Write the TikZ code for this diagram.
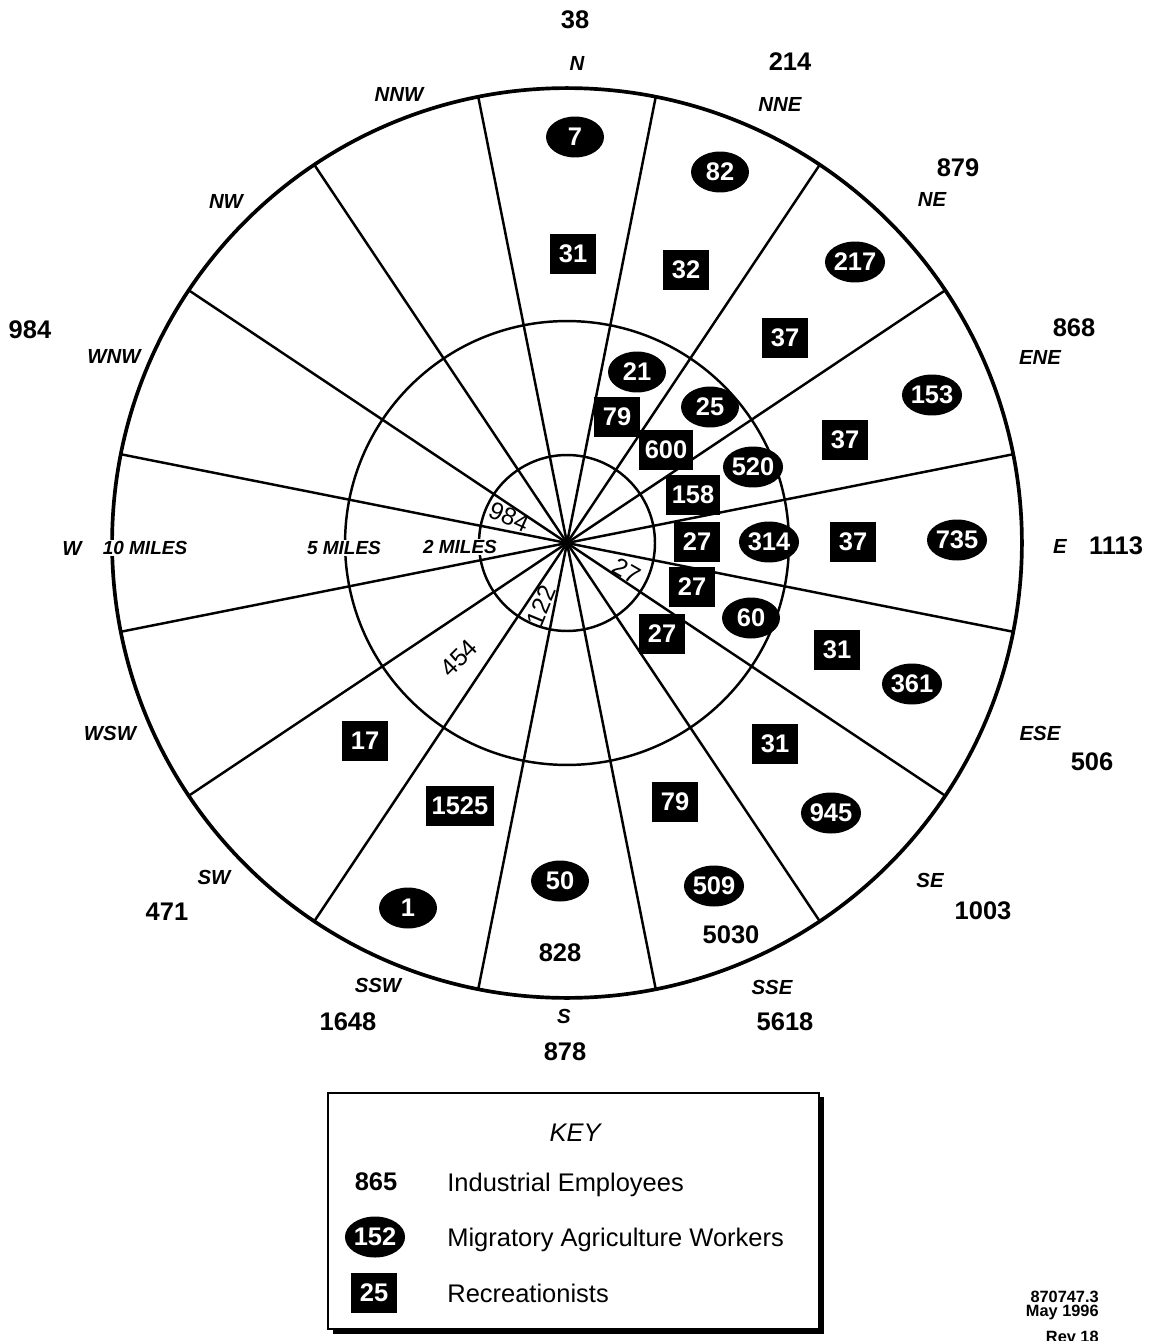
\documentclass[tikz,border=0pt]{standalone}
\usepackage{fontspec}
\setmainfont{Liberation Sans}
\usetikzlibrary{shapes.geometric,positioning}

\begin{document}
\begin{tikzpicture}[x=0.02cm,y=-0.02cm]
\tikzstyle{migr}=[ellipse,fill=black,text=white,font=\bfseries\fontsize{14.5}{14.5}\selectfont,minimum width=1.16cm,minimum height=0.82cm,inner sep=0pt]
\tikzstyle{recr}=[rectangle,fill=black,text=white,font=\bfseries\fontsize{14.5}{14.5}\selectfont,minimum width=0.92cm,minimum height=0.8cm,inner xsep=0.12cm,inner ysep=0pt]
\tikzstyle{indus}=[font=\bfseries\fontsize{14.5}{14.5}\selectfont,inner sep=0pt]
\tikzstyle{compass}=[font=\bfseries\itshape\fontsize{11.6}{11.6}\selectfont,inner sep=0pt]
\tikzstyle{miles}=[font=\bfseries\itshape\fontsize{10.8}{10.8}\selectfont,fill=white,inner sep=1pt]
\tikzstyle{sectnum}=[font=\fontsize{14}{14}\selectfont,inner sep=0pt]
\tikzstyle{keytext}=[font=\fontsize{14.5}{15}\selectfont,inner sep=0pt,anchor=base west]
\tikzstyle{foot}=[font=\bfseries\fontsize{9.3}{9.3}\selectfont,inner sep=0pt,anchor=base east]
\useasboundingbox (0,0) rectangle (1153,1341);
\coordinate (O) at (567,543);
% rings and sectors
\draw[line width=1.4pt] (O) circle[radius=4.44cm];
\draw[line width=1.4pt] (O) circle[radius=1.76cm];
\foreach \a in {11.25,33.75,...,348.75}
  \draw[line width=1.4pt] (O) -- ++(\a:455);
\draw[line width=2.1pt] (O) circle[radius=9.1cm];
\fill (O) circle[radius=2.5pt];
\node[miles] (m10) at (145,548) {10 MILES};
\node[miles] (m5) at (344,548) {5 MILES};
\node[miles] (m2) at (460,547) {2 MILES};
% directions and industrial employees
\node[indus] (n38) at (575,20) {38};
\node[compass] (dN) at (577,63) {N};
\node[indus] (n214) at (790,62) {214};
\node[compass] (dNNE) at (780,104) {NNE};
\node[indus] (n879) at (958,168) {879};
\node[compass] (dNE) at (932,199) {NE};
\node[indus] (n868) at (1074,328) {868};
\node[compass] (dENE) at (1040,357) {ENE};
\node[compass] (dE) at (1060,546) {E};
\node[indus] (n1113) at (1116,546) {1113};
\node[compass] (dESE) at (1040,733) {ESE};
\node[indus] (n506) at (1092,762) {506};
\node[compass] (dSE) at (930,880) {SE};
\node[indus] (n1003) at (983,911) {1003};
\node[compass] (dSSE) at (772,987) {SSE};
\node[indus] (n5618) at (785,1022) {5618};
\node[compass] (dS) at (564,1016) {S};
\node[indus] (n878) at (565,1052) {878};
\node[compass] (dSSW) at (378,985) {SSW};
\node[indus] (n1648) at (348,1022) {1648};
\node[compass] (dSW) at (214,877) {SW};
\node[indus] (n471) at (167,912) {471};
\node[compass] (dWSW) at (110,733) {WSW};
\node[compass] (dW) at (72,548) {W};
\node[compass] (dWNW) at (114,356) {WNW};
\node[indus] (n984) at (30,330) {984};
\node[compass] (dNW) at (226,201) {NW};
\node[compass] (dNNW) at (399,94) {NNW};
\node[indus] (n828) at (560,953) {828};
\node[indus] (n5030) at (731,935) {5030};
% inner ring numbers
\node[sectnum,rotate=-24] (i984) at (509,517) {984};
\node[sectnum,rotate=-30] (i27) at (627,571) {27};
\node[sectnum,rotate=67.5] (i122) at (541,606) {122};
\node[sectnum,rotate=45] (i454) at (459,658) {454};
% migratory workers
\node[migr] (aN) at (575,137) {7};
\node[migr] (aNNE) at (720,172) {82};
\node[migr] (aNE) at (855,262) {217};
\node[migr] (aENE) at (932,395) {153};
\node[migr] (aE) at (957,540) {735};
\node[migr] (aESE) at (912,684) {361};
\node[migr] (aSE) at (831,813) {945};
\node[migr] (aSSE) at (714,886) {509};
\node[migr] (aS) at (560,881) {50};
\node[migr] (aSSW) at (408,908) {1};
\node[migr] (bNNE) at (637,372) {21};
\node[migr] (bNE) at (710,407) {25};
\node[migr] (bENE) at (753,467) {520};
\node[migr] (bE) at (769,542) {314};
\node[migr] (bESE) at (751,618) {60};
% recreationists
\node[recr] (rN) at (573,254) {31};
\node[recr] (rNNE) at (686,270) {32};
\node[recr] (rNE) at (785,338) {37};
\node[recr] (rENE) at (845,440) {37};
\node[recr] (rE) at (853,542) {37};
\node[recr] (rESE) at (837,650) {31};
\node[recr] (rSE) at (775,744) {31};
\node[recr] (rSSE) at (675,802) {79};
\node[recr] (rSSW) at (460,806) {1525};
\node[recr] (rSW) at (365,741) {17};
\node[recr] (sNNE) at (617,417) {79};
\node[recr] (sNE) at (666,450) {600};
\node[recr] (sENE) at (693,495) {158};
\node[recr] (sE) at (697,542) {27};
\node[recr] (sESE) at (692,587) {27};
\node[recr] (sSE) at (662,634) {27};
% key
\fill (333,1097) rectangle (824,1334);
\draw[line width=1.2pt,fill=white] (328,1093) rectangle (819,1329);
\node[font=\itshape\fontsize{14.5}{15}\selectfont,inner sep=0pt] (key) at (575,1133) {KEY};
\node[indus] (k1) at (376,1182) {865};
\node[migr,minimum width=1.2cm] (k2) at (375,1237) {152};
\node[recr] (k3) at (374,1293) {25};
\node[keytext] (t1) at (447,1191) {Industrial Employees};
\node[keytext] (t2) at (447,1246) {Migratory Agriculture Workers};
\node[keytext] (t3) at (447,1302) {Recreationists};
% footer
\node[foot] (f1) at (1099,1302) {870747.3};
\node[foot] (f2) at (1099,1316) {May 1996};
\node[foot] (f3) at (1099,1342) {Rev 18};
\end{tikzpicture}
\end{document}
